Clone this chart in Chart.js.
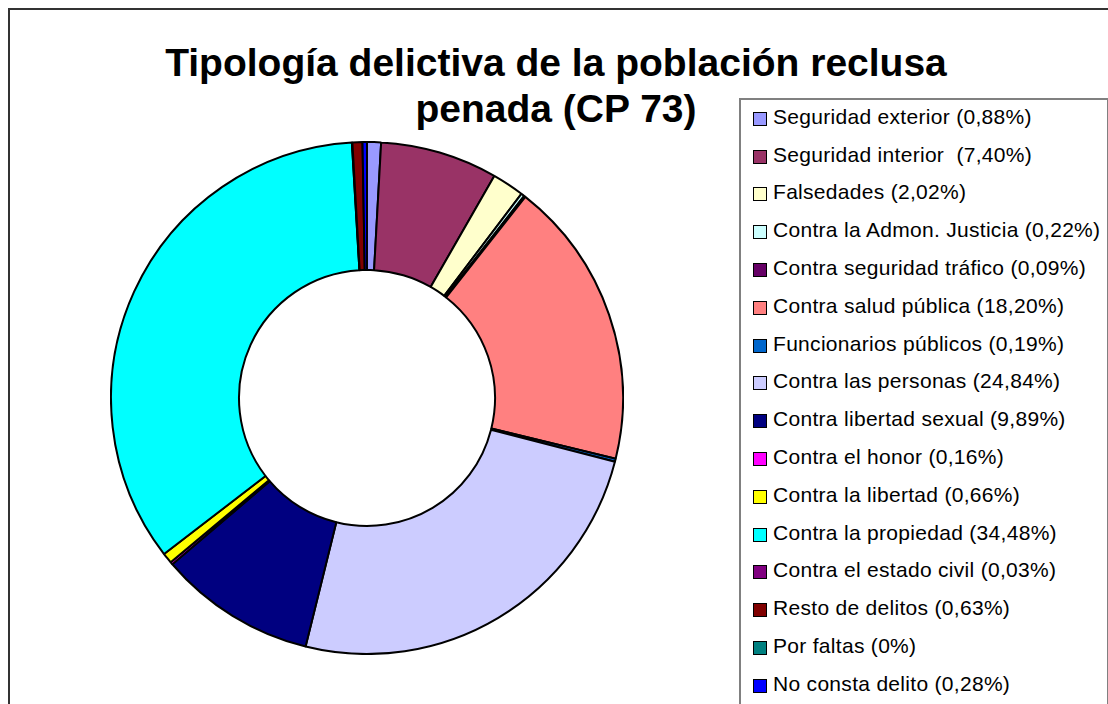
<!DOCTYPE html>
<html>
<head>
<meta charset="utf-8">
<script src="https://cdn.jsdelivr.net/npm/chart.js@4.4.1/dist/chart.umd.min.js"></script>
<style>
  body { margin: 0; background: #fff; width: 1108px; height: 704px; overflow: hidden; position: relative; font-family: "Liberation Sans", Arial, sans-serif; }
  #frame { position: absolute; left: 8px; top: 8px; width: 1120px; height: 720px; border: 2px solid #333; box-sizing: border-box; }
  #title { position: absolute; left: 0; top: 40px; width: 1112px; text-align: center; font-weight: bold; font-size: 39px; line-height: 46px; color: #000; }
  #legendBox { position: absolute; left: 739px; top: 98px; width: 370px; height: 640px; border: 2px solid #808080; box-sizing: border-box; background: #fff; }
  .legend-item { position: absolute; left: 753px; height: 37.8px; line-height: 37.8px; font-size: 21px; letter-spacing: 0.3px; white-space: pre; color: #000; }
  .legend-item .sw { position: absolute; left: 0; top: 14px; width: 14px; height: 14px; border: 1px solid #000; box-sizing: border-box; }
  .legend-item span.txt { position: absolute; left: 20px; top: 0; }
  #chartWrap { position: absolute; left: 110px; top: 141px; width: 514px; height: 514px; }
</style>
</head>
<body>
<div id="frame"></div>
<div id="title">Tipología delictiva de la población reclusa<br>penada (CP 73)</div>
<div id="legendBox"></div>
<div id="legend"></div>
<div id="chartWrap"><canvas id="donut" width="514" height="514"></canvas></div>

<script>
// ===== Data =====
const categorias = [
  "Seguridad exterior",
  "Seguridad interior ",
  "Falsedades",
  "Contra la Admon. Justicia",
  "Contra seguridad tráfico",
  "Contra salud pública",
  "Funcionarios públicos",
  "Contra las personas",
  "Contra libertad sexual",
  "Contra el honor",
  "Contra la libertad",
  "Contra la propiedad",
  "Contra el estado civil",
  "Resto de delitos",
  "Por faltas",
  "No consta delito",
];

const porcentajes = [0.88, 7.40, 2.02, 0.22, 0.09, 18.20, 0.19, 24.84, 9.89, 0.16, 0.66, 34.48, 0.03, 0.63, 0, 0.28];

const colores = [
  "#9999FF", "#993366", "#FFFFCC", "#CCFFFF", "#660066", "#FF8080", "#0066CC", "#CCCCFF",
  "#000080", "#FF00FF", "#FFFF00", "#00FFFF", "#800080", "#800000", "#008080", "#0000FF",
];

function formatPct(v) {
  return v === 0 ? "0" : v.toFixed(2).replace(".", ",");
}

// ===== Legend =====
const legend = document.getElementById("legend");
legend.innerHTML = categorias
  .map((c, i) => `
    <div class="legend-item" style="top:${97.8 + i * 37.8}px">
      <div class="sw" style="background:${colores[i]}"></div>
      <span class="txt">${c} (${formatPct(porcentajes[i])}%)</span>
    </div>`)
  .join("");

// ===== Chart =====
const ctx = document.getElementById("donut").getContext("2d");
new Chart(ctx, {
  type: "doughnut",
  data: {
    labels: categorias,
    datasets: [
      {
        data: porcentajes,
        backgroundColor: colores,
        borderColor: "#000",
        borderWidth: 2,
      },
    ],
  },
  options: {
    responsive: false,
    animation: false,
    cutout: "50%",
    layout: { padding: 0 },
    plugins: {
      legend: { display: false },
      title: { display: false },
      tooltip: { enabled: false },
    },
  },
});
</script>
</body>
</html>
